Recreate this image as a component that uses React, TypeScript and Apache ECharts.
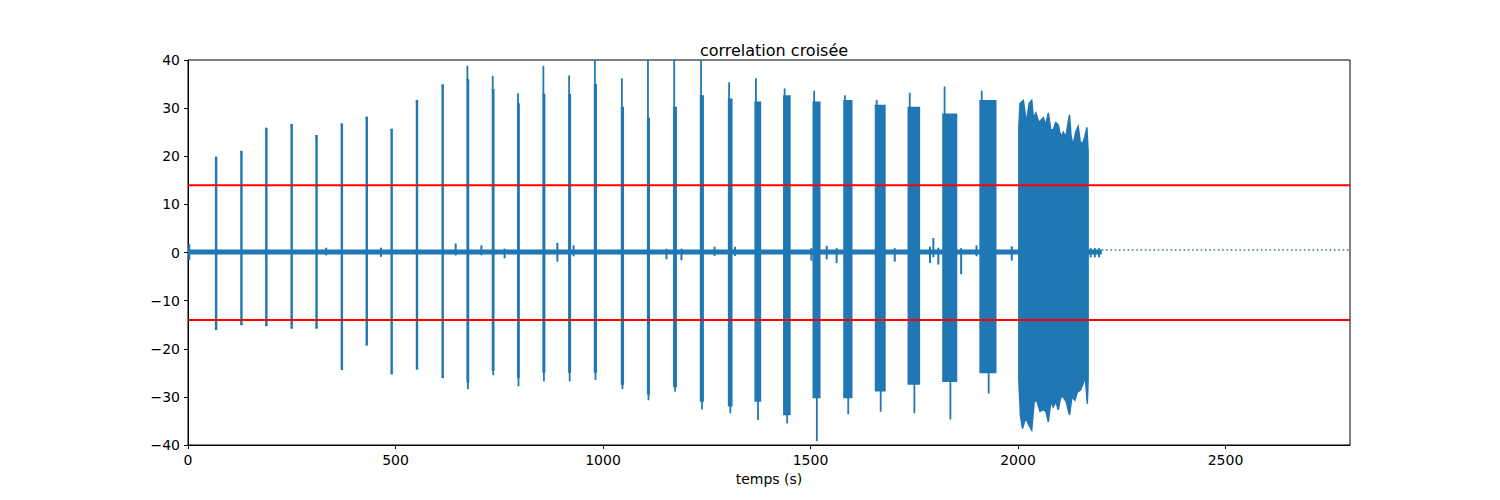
import React, { useEffect, useRef } from "react";
import * as echarts from "echarts";

const BLUE = "#1f77b4";
const RED = "#ff0000";
const FONT = "DejaVu Sans";

const TITLE = "correlation croisée";
const X_NAME = "temps (s)";
const X_MIN = 0;
const X_MAX = 2800;
const X_STEP = 500;
const Y_MIN = -40;
const Y_MAX = 40;
const Y_STEP = 10;
const THRESHOLD = 14;

// Bursts: [start (s), end (s), peak max, peak min, body max, body min]
const bursts: number[][] = [
  [67, 68.5, 19.9, -16.1, 19.9, -16.1],
  [128, 129.5, 21.1, -15.1, 21.1, -15.1],
  [188, 189.5, 25.9, -15.3, 25.9, -15.3],
  [249, 250.5, 26.7, -15.8, 26.7, -15.8],
  [309, 310.5, 24.4, -15.8, 24.4, -15.8],
  [370, 371.5, 26.8, -24.4, 26.8, -24.4],
  [430, 431.5, 28.2, -19.3, 28.2, -19.3],
  [490, 491.5, 25.7, -25.3, 25.7, -25.3],
  [551, 552.5, 31.7, -24.3, 31.7, -24.3],
  [613, 614.5, 34.9, -26.1, 34.9, -26.1],
  [673, 675.5, 38.8, -28.4, 36, -27],
  [734, 736.5, 36.7, -25.5, 34, -24.5],
  [795, 797.5, 33.1, -27.8, 31, -26],
  [856, 859, 38.8, -26.8, 33, -25],
  [918, 921, 36.8, -26.8, 33, -25],
  [980, 983.5, 41, -26.5, 35, -25],
  [1045, 1048.5, 36.2, -28.4, 30.3, -27.5],
  [1108, 1111, 42, -30.7, 28, -29.5],
  [1171, 1176, 42, -28.9, 30.3, -28],
  [1235.5, 1241, 42, -32.6, 32.7, -31],
  [1303, 1310, 35.4, -33.4, 32, -32],
  [1367, 1379, 36.2, -34.8, 31.4, -31],
  [1436, 1450, 34.1, -35.5, 32.7, -33.8],
  [1507, 1522, 33.6, -39.2, 31.4, -30.3],
  [1581, 1599, 32.7, -33.6, 31.7, -30.3],
  [1657, 1679, 31.7, -33.1, 30.7, -28.9],
  [1736, 1762, 33.2, -33.4, 30.3, -27.5],
  [1819.5, 1851.5, 34.5, -34.7, 28.9, -26.9],
  [1909, 1946, 33.6, -29.3, 31.7, -25.1],
];

// Dense final burst envelope
const denseUpper: number[][] = [
  [2002, 26], [2005, 31], [2013, 31.6], [2020, 27], [2027, 31], [2033, 31.6],
  [2037, 28], [2043, 29], [2050, 27], [2061, 28], [2067, 26.5], [2073, 29],
  [2079, 25.5], [2085, 25.5], [2091, 27], [2097, 26.5], [2103, 24], [2109, 25],
  [2115, 24], [2124, 28.6], [2128, 24], [2133, 22.4], [2139, 25], [2145, 26.2],
  [2150, 23], [2156, 22.7], [2161, 24], [2166, 26], [2169, 21],
];
const denseLower: number[][] = [
  [2002, -26.5], [2006, -34], [2011, -36.6], [2016, -35], [2021, -34.8],
  [2027, -36], [2033, -36.9], [2039, -31], [2045, -30.7], [2053, -33],
  [2061, -32.7], [2067, -33], [2073, -35.2], [2079, -31], [2085, -32.1],
  [2091, -31], [2097, -32.7], [2103, -30], [2109, -30], [2116, -31],
  [2124, -33.8], [2130, -30], [2137, -30.7], [2143, -29], [2150, -28.6],
  [2156, -27.5], [2162, -25.8], [2167, -31.4], [2169, -26.5],
];

// Baseline noise level and extent
const baseline: number[][] = [[0, 0.1], [2202, 0.1]];
// Small baseline excursions: [t, high, low]
const bumps: number[][] = [
  [3, 1.7, -1.6], [188, 1.1, -1.3], [333, 1.0, -0.6], [465, 1.0, -0.9],
  [645, 1.9, -0.6], [707, 1.5, -0.6], [763, 0.8, -1.2], [890, 2.0, -1.9],
  [929, 1.5, -0.8], [1153, 0.8, -1.4], [1189, 0.8, -1.6], [1269, 1.2, -0.7],
  [1318, 1.2, -0.7], [1502, 0.9, -1.7], [1539, 1.4, -1.4], [1563, 0.9, -2.2],
  [1703, 0.9, -1.9], [1788, 1.2, -2.2], [1796, 3.0, -1.0], [1808, 1.0, -2.5],
  [1863, 0.9, -4.5], [1900, 1.5, -0.8], [1985, 1.3, -1.7],
  [2175, 0.9, -1.0], [2185, 0.9, -1.0], [2195, 0.9, -1.0],
];
// Flat tail after the recording stops
const tail: number[][] = [[2202, 0.5], [2800, 0.5]];
const upperThreshold: number[][] = [[X_MIN, THRESHOLD], [X_MAX, THRESHOLD]];
const lowerThreshold: number[][] = [[X_MIN, -THRESHOLD], [X_MAX, -THRESHOLD]];

export default function App() {
  const ref = useRef<HTMLDivElement>(null);

  useEffect(() => {
    if (!ref.current) return;
    const chart = echarts.init(ref.current, undefined, { renderer: "svg" });

    const clampY = (y: number, cs: any) => Math.min(Math.max(y, cs.y), cs.y + cs.height);

    const option: any = {
      animation: false,
      backgroundColor: "#ffffff",
      textStyle: { fontFamily: FONT },
      title: {
        text: TITLE,
        left: 769,
        textAlign: "center",
        top: 37,
        textStyle: { fontFamily: FONT, fontSize: 16, fontWeight: "normal", color: "#000" },
      },
      grid: {
        left: 188,
        top: 60,
        width: 1162,
        height: 385,
        show: true,
        borderColor: "#000",
        borderWidth: 1,
        backgroundColor: "transparent",
      },
      xAxis: {
        type: "value",
        min: X_MIN,
        max: X_MAX,
        interval: X_STEP,
        name: X_NAME,
        nameLocation: "middle",
        nameGap: 27,
        nameTextStyle: { fontFamily: FONT, fontSize: 14, color: "#000" },
        axisLine: { show: true, onZero: false, lineStyle: { color: "#000", width: 1 } },
        axisTick: { show: true, inside: false, length: 4, lineStyle: { color: "#000", width: 1 } },
        axisLabel: {
          show: true,
          margin: 8,
          fontFamily: FONT,
          fontSize: 14,
          color: "#000",
          showMaxLabel: false,
          formatter: (v: number) => String(v),
        },
        splitLine: { show: false },
      },
      yAxis: {
        type: "value",
        min: Y_MIN,
        max: Y_MAX,
        interval: Y_STEP,
        axisLine: { show: true, onZero: false, lineStyle: { color: "#000", width: 1 } },
        axisTick: { show: true, inside: false, length: 4, lineStyle: { color: "#000", width: 1 } },
        axisLabel: {
          show: true,
          margin: 8,
          fontFamily: FONT,
          fontSize: 14,
          color: "#000",
          formatter: (v: number) => String(v).replace("-", "\u2212"),
        },
        splitLine: { show: false },
      },
      series: [
        {
          type: "line",
          data: baseline,
          symbol: "none",
          lineStyle: { color: BLUE, width: 5 },
          z: 2,
          silent: true,
        },
        {
          type: "custom",
          data: bumps,
          encode: { x: 0, y: [1, 2] },
          z: 3,
          silent: true,
          renderItem: (params: any, api: any) => {
            const t = api.value(0);
            const a = api.coord([t, api.value(1)]);
            const b = api.coord([t, api.value(2)]);
            return {
              type: "rect",
              shape: { x: a[0] - 1, y: a[1], width: 2, height: b[1] - a[1] },
              style: { fill: BLUE },
            };
          },
        },
        {
          type: "custom",
          data: bursts,
          encode: { x: [0, 1], y: [2, 3] },
          z: 4,
          silent: true,
          renderItem: (params: any, api: any) => {
            const cs = params.coordSys;
            const s = api.value(0);
            const e = api.value(1);
            const tp = api.value(2);
            const bp = api.value(3);
            const tb = api.value(4);
            const bb = api.value(5);
            const a = api.coord([s, tb]);
            const b = api.coord([e, bb]);
            const topY = clampY(api.coord([s, tp])[1], cs);
            const botY = clampY(api.coord([s, bp])[1], cs);
            const ay = clampY(a[1], cs);
            const w = Math.max(b[0] - a[0], 0);
            const xl = a[0] - 0.9;
            const spikeTopX = a[0] + Math.min(w * 0.12, 1.5);
            const spikeBotX = a[0] + w * 0.55;
            return {
              type: "group",
              children: [
                {
                  type: "rect",
                  shape: { x: xl, y: ay, width: w + 1.8, height: b[1] - ay },
                  style: { fill: BLUE },
                },
                {
                  type: "line",
                  shape: { x1: spikeTopX, y1: topY, x2: spikeTopX, y2: ay + 2 },
                  style: { stroke: BLUE, lineWidth: 1.8 },
                },
                {
                  type: "line",
                  shape: { x1: spikeBotX, y1: b[1] - 2, x2: spikeBotX, y2: botY },
                  style: { stroke: BLUE, lineWidth: 1.8 },
                },
              ],
            };
          },
        },
        {
          type: "custom",
          data: [[denseUpper[0][0], denseUpper[denseUpper.length - 1][0], 31.6, -36.9]],
          encode: { x: [0, 1], y: [2, 3] },
          z: 4,
          silent: true,
          renderItem: (params: any, api: any) => {
            const pts: number[][] = [];
            denseUpper.forEach((p) => pts.push(api.coord(p)));
            for (let i = denseLower.length - 1; i >= 0; i--) pts.push(api.coord(denseLower[i]));
            return {
              type: "polygon",
              shape: { points: pts },
              style: { fill: BLUE, stroke: BLUE, lineWidth: 1.5, lineJoin: "miter" },
            };
          },
        },
        {
          type: "line",
          data: tail,
          symbol: "none",
          lineStyle: { color: BLUE, width: 1.5, type: [1.5, 2.8] },
          z: 3,
          silent: true,
        },
        {
          type: "line",
          data: upperThreshold,
          symbol: "none",
          lineStyle: { color: RED, width: 2 },
          z: 6,
          silent: true,
        },
        {
          type: "line",
          data: lowerThreshold,
          symbol: "none",
          lineStyle: { color: RED, width: 2 },
          z: 6,
          silent: true,
        },
      ],
    };

    chart.setOption(option);
    return () => chart.dispose();
  }, []);

  return (
    <div
      ref={ref}
      style={{ position: "fixed", left: 0, top: 0, width: 1500, height: 500, background: "#fff" }}
    />
  );
}
